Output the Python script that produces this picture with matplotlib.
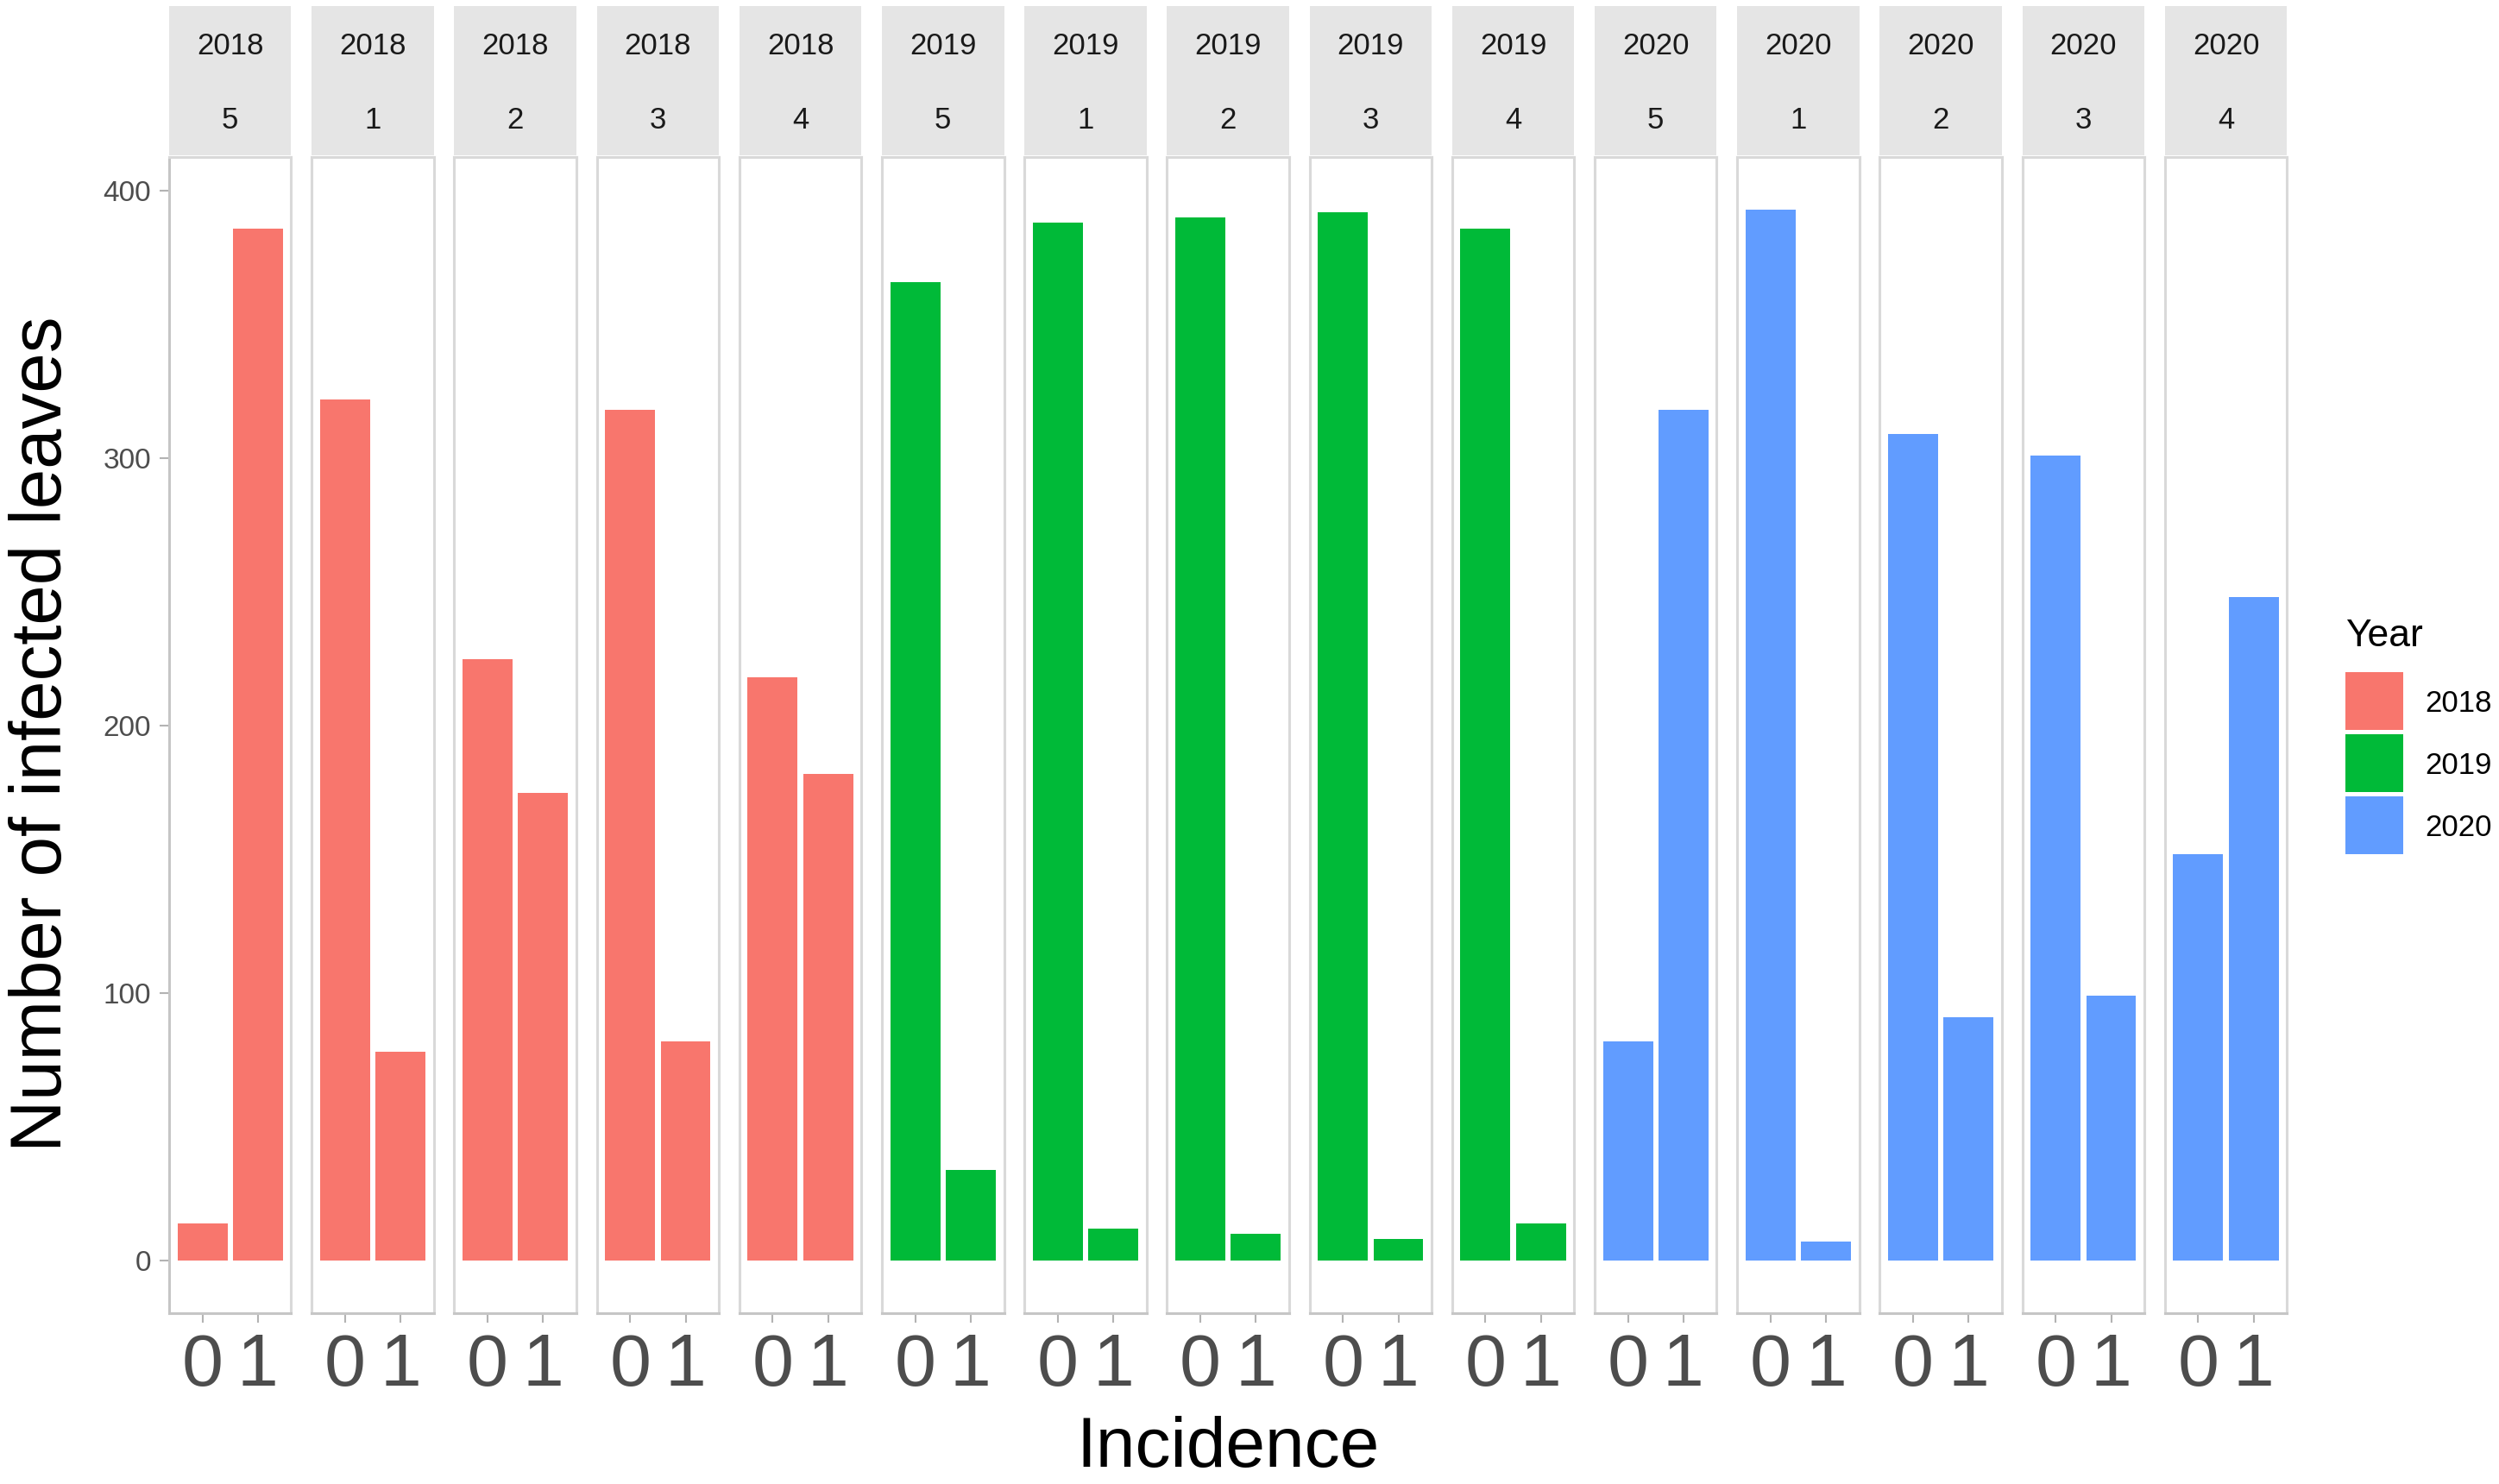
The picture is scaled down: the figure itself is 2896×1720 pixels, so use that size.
import matplotlib
matplotlib.use('Agg')
import matplotlib.pyplot as plt
from matplotlib.patches import Rectangle

plt.rcParams['font.family'] = ['Liberation Sans', 'DejaVu Sans']

# ---------------- data ----------------
years = ['2018'] * 5 + ['2019'] * 5 + ['2020'] * 5
plots = ['5', '1', '2', '3', '4'] * 3
incidence = ['0', '1']
count_inc0 = [14, 322, 225, 318, 218, 366, 388, 390, 392, 386, 82, 393, 309, 301, 152]
count_inc1 = [386, 78, 175, 82, 182, 34, 12, 10, 8, 14, 318, 7, 91, 99, 248]
legend_years = ['2018', '2019', '2020']
year_colors = {'2018': '#F8766D', '2019': '#00BA38', '2020': '#619CFF'}
yticks = [0, 100, 200, 300, 400]

# ---------------- layout (pixels) ----------------
W, H = 2896, 1720
fig = plt.figure(figsize=(W / 100, H / 100), dpi=100)
fig.patch.set_facecolor('white')


def fx(px):
    return px / W


def fy(py):
    return 1 - py / H


P_LEFT, P_PITCH, P_W = 196, 165.2, 141.5
P_TOP, P_BOT = 182, 1522
S1_TOP, S_MID, S2_BOT = 7, 92, 180

ymax = max(max(count_inc0), max(count_inc1))
pad = 0.05 * ymax

border_col = '#D9D9D9'
axis_col = '#C6C6C6'
tick_col = '#B3B3B3'
text_grey = '#4D4D4D'

STRIP_FS = 25
strip_off = 0.358 * STRIP_FS * 100 / 72  # digit centre -> baseline offset (px)

for i in range(len(years)):
    left = P_LEFT + i * P_PITCH
    ax = fig.add_axes([fx(left), fy(P_BOT), P_W / W, (P_BOT - P_TOP) / H])
    col = year_colors[years[i]]
    ax.bar(incidence, [count_inc0[i], count_inc1[i]], width=0.9, color=col, zorder=2)
    ax.set_xlim(-0.6, 1.6)
    ax.set_ylim(-pad, ymax + pad)
    ax.set_yticks(yticks)
    ax.set_facecolor('white')
    for s in ax.spines.values():
        s.set_color(border_col)
        s.set_linewidth(2.2)
    ax.spines['bottom'].set_color(axis_col)
    ax.tick_params(axis='x', length=8, width=1.5, color=tick_col,
                   labelsize=62, labelcolor=text_grey, pad=8)
    if i == 0:
        ax.spines['left'].set_color(axis_col)
        ax.tick_params(axis='y', length=8, width=1.5, color=tick_col,
                       labelsize=24, labelcolor=text_grey, pad=7)
    else:
        ax.tick_params(axis='y', left=False, labelleft=False)

    # strips
    for (top, bot, label) in [(S1_TOP, S_MID, years[i]), (S_MID, S2_BOT, plots[i])]:
        sax = fig.add_axes([fx(left), fy(bot), P_W / W, (bot - top) / H])
        sax.set_facecolor('#E5E5E5')
        sax.set_xticks([])
        sax.set_yticks([])
        for s in sax.spines.values():
            s.set_visible(False)
        cy = (top + bot) / 2 + 1
        fig.text(fx(left + P_W / 2), fy(cy + strip_off), label, ha='center',
                 va='baseline', fontsize=STRIP_FS, color='#1A1A1A')

# axis titles
fig.text(fx(71), fy(851), 'Number of infected leaves', rotation=90,
         rotation_mode='anchor', ha='center', va='baseline', fontsize=60, color='black')
fig.text(fx(1423), fy(1700), 'Incidence', ha='center', va='baseline', fontsize=59,
         color='black')

# legend
fig.text(fx(2718), fy(749), 'Year', ha='left', va='baseline', fontsize=32, color='black')
key_top0, key_pitch, key_size = 779, 72, 67
LEG_FS = 25
leg_off = 0.358 * LEG_FS * 100 / 72
for k, yr in enumerate(legend_years):
    top = key_top0 + k * key_pitch
    fig.patches.append(Rectangle((fx(2718), fy(top + key_size)), key_size / W, key_size / H,
                                 transform=fig.transFigure, facecolor=year_colors[yr],
                                 edgecolor='none'))
    fig.text(fx(2810), fy(top + key_size / 2 + leg_off), yr, ha='left', va='baseline',
             fontsize=LEG_FS, color='black')

fig.savefig('out.png', dpi=100)
